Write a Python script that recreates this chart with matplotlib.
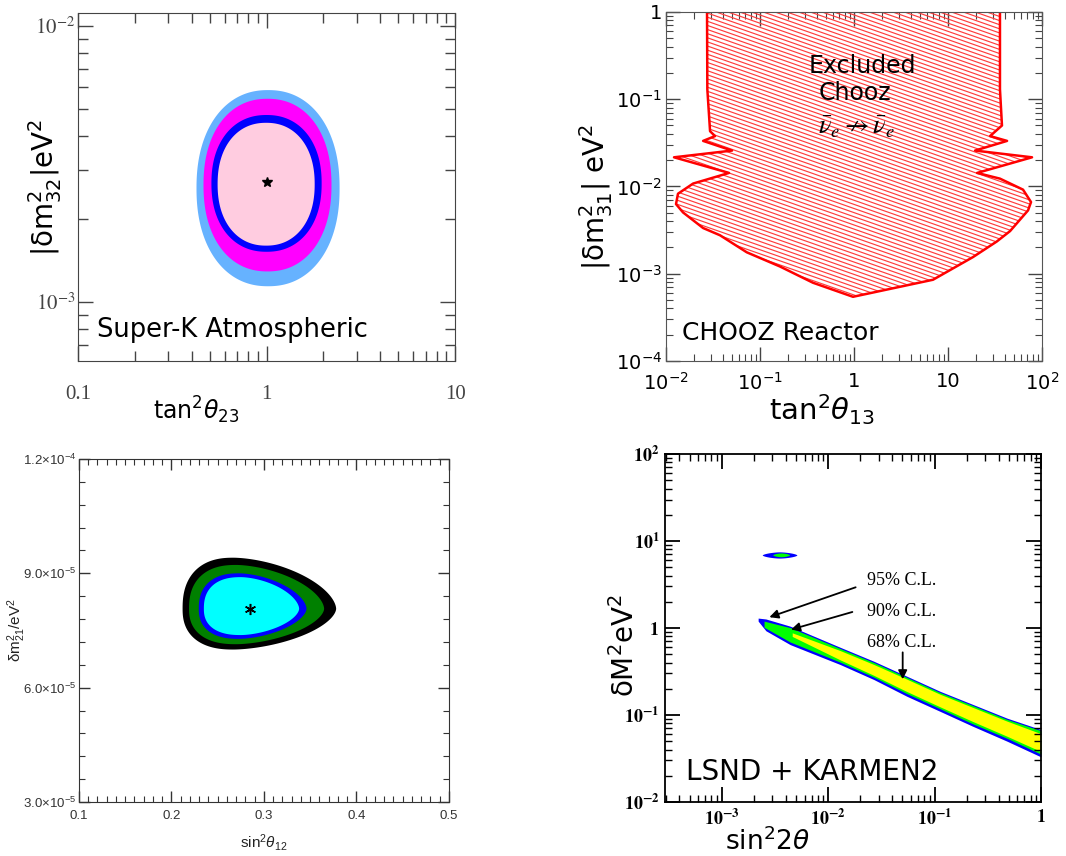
import numpy as np
import matplotlib.pyplot as plt
import matplotlib.ticker as mticker
from matplotlib.patches import Polygon
from matplotlib.collections import LineCollection

plt.rcParams['mathtext.rm'] = 'Liberation Sans'
plt.rcParams['mathtext.it'] = 'Liberation Sans:italic'
plt.rcParams['mathtext.bf'] = 'Liberation Sans:bold'

# ---- Super-K atmospheric: allowed regions, outer to inner
sk_colors = ['#66b2ff', '#ff00ff', '#0000ff', '#ffcce0']
sk_tan_lo = [0.425, 0.463, 0.51, 0.55]
sk_tan_hi = [2.44, 2.21, 1.96, 1.80]
sk_dm_lo = [1.14e-3, 1.29e-3, 1.52e-3, 1.60e-3]
sk_dm_hi = [5.86e-3, 5.45e-3, 4.76e-3, 4.46e-3]
sk_best = (1.0, 2.72e-3)

# ---- CHOOZ exclusion boundary (left side top->bottom, then right side bottom->top)
chooz_tan = [0.0273, 0.0275, 0.0294, 0.0332, 0.0248, 0.0504, 0.01216, 0.0468,
             0.0194, 0.0134, 0.01277, 0.01517, 0.0248, 0.0375, 0.0723, 0.163,
             0.366, 0.975, 6.92, 18.4, 33.0, 45.7, 71.0, 76.4, 62.8, 35.7,
             20.4, 78.3, 19.4, 42.5, 28.0, 37.5, 35.7, 35.7]
chooz_dm = [1.0, 0.13, 0.043, 0.0378, 0.0333, 0.0258, 0.0216, 0.0143,
            0.0108, 8.26e-3, 6.28e-3, 5.04e-3, 3.34e-3, 2.76e-3, 1.76e-3, 1.21e-3,
            7.88e-4, 5.44e-4, 8.53e-4, 1.55e-3, 2.34e-3, 3.08e-3, 5.32e-3, 6.63e-3, 9.2e-3, 0.0123,
            0.0143, 0.0216, 0.0258, 0.0333, 0.0378, 0.050, 0.13, 1.0]

# ---- solar + KamLAND regions, outer to inner
sol_colors = ['black', '#008000', '#0000ff', '#00ffff']
sol_s_lo = [0.212, 0.219, 0.2295, 0.235]
sol_s_hi = [0.378, 0.365, 0.346, 0.338]
sol_s_peak = [0.267, 0.270, 0.273, 0.275]
sol_dm_lo = [7.00e-5, 7.14e-5, 7.28e-5, 7.38e-5]
sol_dm_hi = [9.41e-5, 9.22e-5, 9.00e-5, 8.90e-5]
sol_dm_mid = 8.07e-5
sol_best = (0.2847, 8.07e-5)

# ---- LSND + KARMEN2 band
ls_x_blue = [2.2e-3, 2.6e-3, 4.4e-3, 0.013, 0.027, 0.055, 0.113, 0.23, 0.48, 1.0]
ls_blue_hi = [1.30, 1.27, 1.05, 0.60, 0.414, 0.279, 0.187, 0.132, 0.092, 0.068]
ls_blue_lo = [1.20, 0.93, 0.644, 0.38, 0.255, 0.164, 0.110, 0.074, 0.050, 0.033]
ls_x_green = [2.5e-3, 4.4e-3, 0.013, 0.027, 0.055, 0.113, 0.23, 0.48, 1.0]
ls_green_hi = [1.20, 1.01, 0.58, 0.400, 0.270, 0.181, 0.128, 0.089, 0.066]
ls_green_lo = [1.02, 0.69, 0.405, 0.272, 0.176, 0.118, 0.079, 0.054, 0.0355]
ls_x_yellow = [4.6e-3, 0.013, 0.027, 0.055, 0.113, 0.23, 0.48, 1.0]
ls_yellow_hi = [0.88, 0.55, 0.38, 0.258, 0.173, 0.122, 0.085, 0.061]
ls_yellow_lo = [0.80, 0.43, 0.285, 0.186, 0.124, 0.084, 0.057, 0.038]
ls_island_x = [(2.43e-3, 5.14e-3), (3.05e-3, 4.39e-3)]
ls_island_y = [(6.28, 7.41), (6.5, 7.2)]
ls_island_c = ['#0000ff', '#00ff00']

t = np.linspace(0, 2 * np.pi, 300)


def log_oval(x_lo, x_hi, y_lo, y_hi, n=2.0):
    lx0, lx1 = np.log10([x_lo, x_hi])
    ly0, ly1 = np.log10([y_lo, y_hi])
    c, s = np.cos(t), np.sin(t)
    xs = (lx0 + lx1) / 2 + (lx1 - lx0) / 2 * np.sign(c) * np.abs(c) ** (2 / n)
    ys = (ly0 + ly1) / 2 + (ly1 - ly0) / 2 * np.sign(s) * np.abs(s) ** (2 / n)
    return 10 ** xs, 10 ** ys


def egg(x_lo, x_hi, x_mid, y_lo, y_hi, y_mid, n_left=2.4, n_right=1.7):
    c, s = np.cos(t), np.sin(t)
    n = np.where(c >= 0, n_right, n_left)
    a = np.where(c >= 0, x_hi - x_mid, x_mid - x_lo)
    b = np.where(s >= 0, y_hi - y_mid, y_mid - y_lo)
    return (x_mid + a * np.sign(c) * np.abs(c) ** (2 / n),
            y_mid + b * np.sign(s) * np.abs(s) ** (2 / n))


def style_labels(ax, family, mathfam, size, color, weight='normal'):
    for lab in ax.get_xticklabels() + ax.get_yticklabels():
        lab.set_fontfamily(family)
        lab.set_math_fontfamily(mathfam)
        lab.set_fontsize(size)
        lab.set_color(color)
        lab.set_fontweight(weight)


fig = plt.figure(figsize=(10.66, 8.56), dpi=100)

# ================= Super-K atmospheric =================
ax1 = fig.add_axes([0.0732, 0.5783, 0.3537, 0.4065])
ax1.set_xscale('log')
ax1.set_yscale('log')
for col, x0, x1, y0, y1 in zip(sk_colors, sk_tan_lo, sk_tan_hi, sk_dm_lo, sk_dm_hi):
    xs, ys = log_oval(x0, x1, y0, y1, n=2.2)
    ax1.fill(xs, ys, color=col, lw=0)
ax1.plot(*sk_best, marker='*', color='black', ms=7)
ax1.set_xlim(0.1, 10)
ax1.set_ylim(6.11e-4, 1.115e-2)
ax1.set_xticks([0.1, 1, 10], ['0.1', '1', '10'])
ax1.set_yticks([1e-3, 1e-2], [r'$10^{-3}$', r'$10^{-2}$'])
ax1.xaxis.set_minor_locator(mticker.LogLocator(subs=np.arange(2, 10)))
ax1.yaxis.set_minor_locator(mticker.LogLocator(subs=np.arange(2, 10)))
ax1.xaxis.set_minor_formatter(mticker.NullFormatter())
ax1.yaxis.set_minor_formatter(mticker.NullFormatter())
ax1.tick_params(which='both', direction='in', top=True, right=True, color='#444')
ax1.tick_params(which='major', length=11, width=1)
ax1.tick_params(which='minor', length=7, width=1)
ax1.tick_params(axis='x', pad=17)
ax1.tick_params(axis='y', pad=2)
for sp in ax1.spines.values():
    sp.set_color('#444')
style_labels(ax1, 'Liberation Serif', 'stix', 15, '#444')
ax1.text(0.05, 0.069, 'Super-K Atmospheric', transform=ax1.transAxes,
         fontsize=18.5, family='DejaVu Sans')
fig.text(0.184, 0.521, r'tan$^2\theta_{23}$', ha='center', va='center',
         fontsize=17, family='DejaVu Sans')
fig.text(0.042, 0.7815, r'$\mathregular{|\delta m^2_{32}|eV^2}$', rotation=90,
         ha='center', va='center', fontsize=20, family='DejaVu Sans')

# ================= CHOOZ reactor =================
ax2 = fig.add_axes([0.6248, 0.5783, 0.3527, 0.4077])
ax2.set_xscale('log')
ax2.set_yscale('log')
ax2.set_xlim(1e-2, 1e2)
ax2.set_ylim(1e-4, 1)
region = Polygon(np.column_stack([chooz_tan, chooz_dm]), closed=True,
                 facecolor='none', edgecolor='none', transform=ax2.transData)
ax2.add_patch(region)
offs = np.arange(0, 1.40, 0.0118)
hatch = LineCollection([[(0, c), (1, c - 0.377)] for c in offs],
                       colors='#ff3c3c', linewidths=0.85, transform=ax2.transAxes)
hatch.set_clip_path(region)
ax2.add_collection(hatch)
ax2.plot(chooz_tan, chooz_dm, color='#ff0000', lw=1.8)
ax2.set_xticks([1e-2, 1e-1, 1, 10, 1e2],
               [r'$10^{-2}$', r'$10^{-1}$', '1', '10', r'$10^{2}$'])
ax2.set_yticks([1e-4, 1e-3, 1e-2, 1e-1, 1],
               [r'$10^{-4}$', r'$10^{-3}$', r'$10^{-2}$', r'$10^{-1}$', '1'])
ax2.xaxis.set_minor_locator(mticker.LogLocator(subs=np.arange(2, 10)))
ax2.yaxis.set_minor_locator(mticker.LogLocator(subs=np.arange(2, 10)))
ax2.xaxis.set_minor_formatter(mticker.NullFormatter())
ax2.yaxis.set_minor_formatter(mticker.NullFormatter())
ax2.tick_params(which='both', direction='in', top=True, right=True, color='#444')
ax2.tick_params(which='major', length=10, width=1)
ax2.tick_params(which='minor', length=5, width=0.8)
ax2.tick_params(axis='x', pad=8)
ax2.tick_params(axis='y', pad=3)
for sp in ax2.spines.values():
    sp.set_color('#555')
style_labels(ax2, 'DejaVu Sans', 'dejavusans', 14, 'black')
ax2.text(0.521, 0.825, 'Excluded', transform=ax2.transAxes, ha='center',
         fontsize=17, family='DejaVu Sans')
ax2.text(0.503, 0.748, 'Chooz', transform=ax2.transAxes, ha='center',
         fontsize=17, family='DejaVu Sans')
ax2.text(0.505, 0.668, r'$\bar{\nu}_e \nrightarrow \bar{\nu}_e$', transform=ax2.transAxes,
         ha='center', va='center', fontsize=19, math_fontfamily='stix')
ax2.text(0.0426, 0.060, 'CHOOZ Reactor', transform=ax2.transAxes,
         fontsize=18, family='DejaVu Sans')
fig.text(0.771, 0.521, r'tan$^2\theta_{13}$', ha='center', va='center',
         fontsize=21, family='DejaVu Sans')
fig.text(0.559, 0.770, r'$\mathregular{|\delta m^2_{31}|\ eV^2}$', rotation=90,
         ha='center', va='center', fontsize=20, family='DejaVu Sans')

# ================= solar + KamLAND =================
ax3 = fig.add_axes([0.0741, 0.0631, 0.3471, 0.4007])
for col, x0, x1, xm, y0, y1 in zip(sol_colors, sol_s_lo, sol_s_hi, sol_s_peak,
                                   sol_dm_lo, sol_dm_hi):
    xs, ys = egg(x0, x1, xm, y0, y1, sol_dm_mid)
    ax3.fill(xs, ys, color=col, lw=0)
ax3.plot(*sol_best, marker=(6, 2, 0), color='black', ms=8, mew=1.1)
ax3.set_xlim(0.1, 0.5)
ax3.set_ylim(3e-5, 1.2e-4)
ax3.set_xticks([0.1, 0.2, 0.3, 0.4, 0.5], ['0.1', '0.2', '0.3', '0.4', '0.5'])
ax3.set_yticks([3e-5, 6e-5, 9e-5, 1.2e-4],
               [r'$3.0{\times}10^{-5}$', r'$6.0{\times}10^{-5}$',
                r'$9.0{\times}10^{-5}$', r'$1.2{\times}10^{-4}$'])
ax3.xaxis.set_minor_locator(mticker.MultipleLocator(0.01))
ax3.yaxis.set_minor_locator(mticker.MultipleLocator(6e-6))
ax3.tick_params(which='both', direction='in', top=True, right=True, color='#333')
ax3.tick_params(which='major', length=8, width=1)
ax3.tick_params(which='minor', length=4, width=0.8)
ax3.tick_params(axis='x', pad=6)
ax3.tick_params(axis='y', pad=2)
for sp in ax3.spines.values():
    sp.set_color('#333')
style_labels(ax3, 'Liberation Sans', 'custom', 9.5, '#333')
fig.text(0.247, 0.0152, r'sin$^2\theta_{12}$', ha='center', va='center',
         fontsize=11, family='Liberation Sans', math_fontfamily='custom', color='#222')
fig.text(0.016, 0.264, r'$\mathregular{\delta m^2_{21}/eV^2}$', rotation=90,
         ha='center', va='center', fontsize=11, family='Liberation Sans',
         math_fontfamily='custom', color='#222')

# ================= LSND + KARMEN2 =================
ax4 = fig.add_axes([0.6238, 0.0631, 0.3527, 0.4065])
ax4.set_xscale('log')
ax4.set_yscale('log')
ax4.fill_between(ls_x_blue, ls_blue_lo, ls_blue_hi, color='#0000ff', lw=0)
ax4.fill_between(ls_x_green, ls_green_lo, ls_green_hi, color='#00ff00', lw=0)
ax4.fill_between(ls_x_yellow, ls_yellow_lo, ls_yellow_hi, color='#ffff00', lw=0)
for (x0, x1), (y0, y1), col in zip(ls_island_x, ls_island_y, ls_island_c):
    xs, ys = log_oval(x0, x1, y0, y1, n=1.6)
    ax4.fill(xs, ys, color=col, lw=0)
arrow = dict(arrowstyle='-|>', color='black', lw=1.3, mutation_scale=13)
ax4.annotate('', xy=(2.65e-3, 1.30), xytext=(0.0192, 3.01), arrowprops=arrow)
ax4.annotate('', xy=(4.23e-3, 0.94), xytext=(0.0179, 1.56), arrowprops=arrow)
ax4.annotate('', xy=(0.0502, 0.239), xytext=(0.0502, 0.565), arrowprops=arrow)
for lab, yv in zip(['95% C.L.', '90% C.L.', '68% C.L.'], [3.53, 1.56, 0.685]):
    ax4.text(0.0231, yv, lab, va='center', fontsize=13, family='Liberation Serif')
ax4.set_xlim(2.93e-4, 1)
ax4.set_ylim(1e-2, 1e2)
ax4.set_xticks([1e-3, 1e-2, 1e-1, 1],
               [r'$\mathbf{10^{-3}}$', r'$\mathbf{10^{-2}}$', r'$\mathbf{10^{-1}}$',
                r'$\mathbf{1}$'])
ax4.set_yticks([1e-2, 1e-1, 1, 10, 1e2],
               [r'$\mathbf{10^{-2}}$', r'$\mathbf{10^{-1}}$', r'$\mathbf{1}$',
                r'$\mathbf{10^{1}}$', r'$\mathbf{10^{2}}$'])
ax4.xaxis.set_minor_locator(mticker.LogLocator(subs=np.arange(2, 10)))
ax4.yaxis.set_minor_locator(mticker.LogLocator(subs=np.arange(2, 10)))
ax4.xaxis.set_minor_formatter(mticker.NullFormatter())
ax4.yaxis.set_minor_formatter(mticker.NullFormatter())
ax4.tick_params(which='both', direction='in', top=True, right=True, color='black')
ax4.tick_params(which='major', length=11, width=1.3)
ax4.tick_params(which='minor', length=5, width=1)
ax4.tick_params(axis='x', pad=5)
ax4.tick_params(axis='y', pad=4)
for sp in ax4.spines.values():
    sp.set_linewidth(1.3)
style_labels(ax4, 'Liberation Serif', 'stix', 13, 'black', weight='bold')
ax4.text(0.056, 0.063, 'LSND + KARMEN2', transform=ax4.transAxes,
         fontsize=20, family='DejaVu Sans')
fig.text(0.72, 0.017, r'sin$^2$2$\theta$', ha='center', va='center',
         fontsize=19, family='DejaVu Sans')
fig.text(0.586, 0.2465, r'$\mathregular{\delta M^2 eV^2}$', rotation=90,
         ha='center', va='center', fontsize=20, family='DejaVu Sans')

fig.savefig('out.png', dpi=100)
